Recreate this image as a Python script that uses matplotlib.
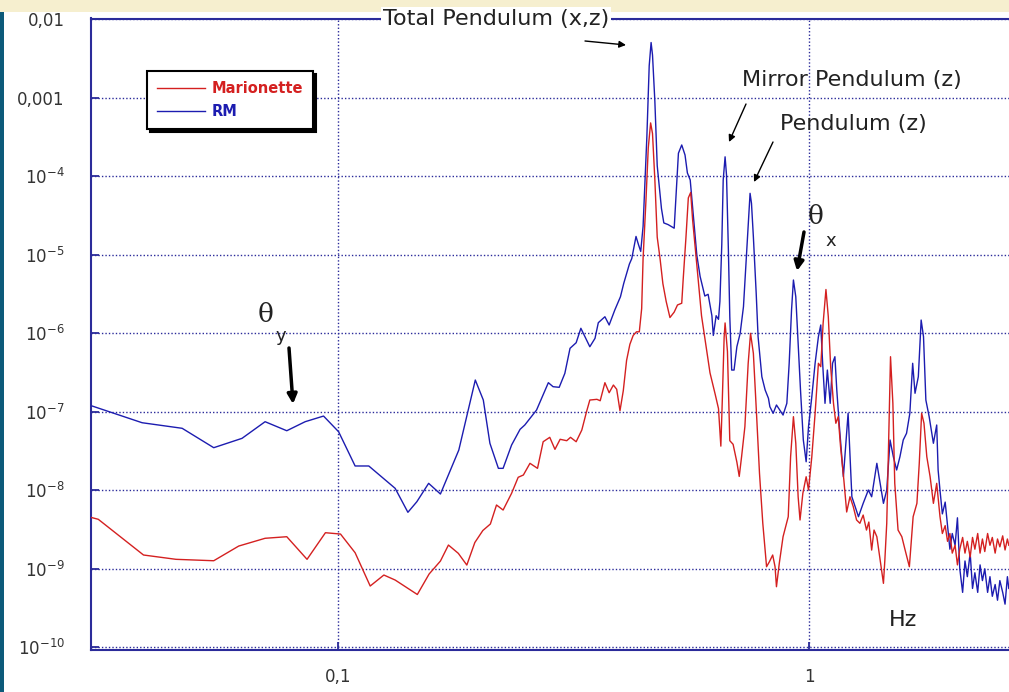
import numpy as np
import matplotlib
matplotlib.use('Agg')
import matplotlib.pyplot as plt
from matplotlib.patches import Rectangle
from matplotlib.ticker import NullLocator, FixedLocator, FixedFormatter

# ---------------- data (log10 of frequency in Hz, log10 of amplitude) ----------------
rm_log_freq = [
    -1.521, -1.415, -1.330, -1.263, -1.203, -1.154, -1.108, -1.069, -1.030, -0.998,
    -0.963, -0.934, -0.878, -0.851, -0.832, -0.807, -0.782, -0.743, -0.708, -0.691,
    -0.677, -0.659, -0.649, -0.631, -0.613, -0.603, -0.578, -0.553, -0.543, -0.530,
    -0.518, -0.507, -0.494, -0.484, -0.465, -0.454, -0.447, -0.433, -0.424, -0.412,
    -0.400, -0.393, -0.381, -0.376, -0.367, -0.362, -0.357, -0.352, -0.344, -0.339,
    -0.335, -0.332, -0.327, -0.322, -0.313, -0.308, -0.299, -0.286, -0.282, -0.277,
    -0.270, -0.263, -0.258, -0.252, -0.245, -0.238, -0.231, -0.221, -0.214, -0.206,
    -0.203, -0.197, -0.192, -0.189, -0.185, -0.182, -0.178, -0.175, -0.171, -0.168,
    -0.164, -0.159, -0.153, -0.146, -0.139, -0.132, -0.125, -0.122, -0.118, -0.112,
    -0.108, -0.100, -0.093, -0.086, -0.083, -0.076, -0.069, -0.062, -0.055, -0.047,
    -0.042, -0.037, -0.033, -0.028, -0.023, -0.018, -0.012, -0.006, -0.001, 0.006,
    0.013, 0.020, 0.025, 0.029, 0.034, 0.039, 0.045, 0.050, 0.055, 0.059,
    0.064, 0.073, 0.083, 0.091, 0.105, 0.115, 0.126, 0.133, 0.144, 0.151,
    0.158, 0.165, 0.172, 0.179, 0.186, 0.193, 0.200, 0.207, 0.214, 0.220,
    0.225, 0.232, 0.238, 0.243, 0.248, 0.255, 0.264, 0.271, 0.274,
    0.278, 0.283, 0.289, 0.294, 0.299, 0.304, 0.310, 0.315, 0.320, 0.326,
    0.331, 0.336, 0.342, 0.347, 0.352, 0.358, 0.363, 0.368, 0.373, 0.379,
    0.384, 0.389, 0.395, 0.400, 0.405, 0.411, 0.416, 0.421, 0.424,
]
rm_log_asd = [
    -6.926, -7.139, -7.210, -7.457, -7.338, -7.126, -7.241, -7.126, -7.054, -7.254,
    -7.690, -7.690, -7.975, -8.280, -8.145, -7.911, -8.047, -7.487, -6.595, -6.850,
    -7.401, -7.720, -7.720, -7.423, -7.223, -7.168, -6.977, -6.629, -6.680, -6.688,
    -6.510, -6.191, -6.120, -5.936, -6.171, -6.064, -5.865, -5.789, -5.894, -5.703,
    -5.534, -5.363, -5.117, -5.048, -4.766, -4.866, -4.957, -4.638, -3.501, -2.591,
    -2.296, -2.455, -3.046, -3.865, -4.411, -4.594, -4.615, -4.661, -4.229, -3.706,
    -3.601, -3.729, -3.957, -4.047, -4.525, -5.003, -5.275, -5.525, -5.503, -5.776,
    -6.027, -5.776, -5.822, -5.594, -4.866, -4.047, -3.752, -3.983, -4.939, -5.789,
    -6.468, -6.468, -6.171, -6.000, -5.661, -4.939, -4.217, -4.344, -4.769, -5.490,
    -6.043, -6.553, -6.722, -6.828, -6.935, -7.019, -6.913, -6.977, -7.041, -6.892,
    -6.382, -5.703, -5.321, -5.534, -6.127, -6.722, -7.359, -7.636, -7.190, -6.808,
    -6.382, -6.043, -5.894, -6.382, -6.892, -6.468, -6.892, -6.382, -6.298, -6.722,
    -7.146, -7.827, -7.019, -8.082, -8.336, -8.166, -7.996, -8.082, -7.656, -7.911,
    -8.166, -7.996, -7.359, -7.572, -7.741, -7.572, -7.359, -7.274, -7.019, -6.382,
    -6.764, -6.553, -5.831, -6.043, -6.850, -7.062, -7.401, -7.168, -7.741,
    -8.00, -8.30, -8.15, -8.45, -8.75, -8.55, -8.70, -8.35, -9.00, -9.30,
    -8.90, -9.10, -8.80, -9.25, -9.05, -9.30, -8.95, -9.15, -9.00, -9.30,
    -9.10, -9.35, -9.20, -9.40, -9.15, -9.30, -9.45, -9.10, -9.25,
]
mar_log_freq = [
    -1.524, -1.508, -1.412, -1.343, -1.263, -1.210, -1.154, -1.108, -1.065, -1.026,
    -0.994, -0.963, -0.931, -0.902, -0.878, -0.831, -0.806, -0.782, -0.765, -0.744,
    -0.726, -0.709, -0.692, -0.676, -0.663, -0.649, -0.631, -0.617, -0.606, -0.592,
    -0.576, -0.564, -0.550, -0.539, -0.528, -0.514, -0.506, -0.494, -0.482, -0.472,
    -0.465, -0.450, -0.443, -0.433, -0.424, -0.415, -0.408, -0.401, -0.394, -0.387,
    -0.380, -0.373, -0.366, -0.360, -0.355, -0.352, -0.346, -0.341, -0.336, -0.332,
    -0.327, -0.322, -0.316, -0.310, -0.303, -0.295, -0.286, -0.279, -0.270, -0.267,
    -0.261, -0.256, -0.251, -0.247, -0.242, -0.235, -0.228, -0.219, -0.210, -0.199,
    -0.192, -0.187, -0.184, -0.180, -0.178, -0.173, -0.168, -0.161, -0.153, -0.148,
    -0.143, -0.136, -0.129, -0.124, -0.118, -0.111, -0.105, -0.098, -0.090, -0.084,
    -0.077, -0.072, -0.069, -0.063, -0.055, -0.044, -0.039, -0.033, -0.028, -0.023,
    -0.019, -0.013, -0.006, -0.001, 0.006, 0.013, 0.020, 0.025, 0.030, 0.036,
    0.041, 0.046, 0.052, 0.057, 0.062, 0.067, 0.074, 0.080, 0.087, 0.094,
    0.101, 0.108, 0.115, 0.122, 0.127, 0.133, 0.138, 0.144, 0.151, 0.158,
    0.161, 0.165, 0.168, 0.173, 0.178, 0.182, 0.189, 0.197, 0.204, 0.213,
    0.221, 0.229, 0.234, 0.239, 0.244, 0.250, 0.257, 0.264, 0.271, 0.278,
    0.283, 0.289, 0.294, 0.299, 0.304, 0.310, 0.315, 0.320, 0.326, 0.331,
    0.336, 0.342, 0.347, 0.352, 0.358, 0.363, 0.368, 0.373, 0.379, 0.384,
    0.389, 0.395, 0.400, 0.405, 0.411, 0.416, 0.421, 0.424,
]
mar_log_asd = [
    -8.344, -8.369, -8.824, -8.879, -8.897, -8.710, -8.611, -8.591, -8.879, -8.540,
    -8.557, -8.795, -9.219, -9.079, -9.143, -9.327, -9.066, -8.901, -8.697, -8.803,
    -8.952, -8.665, -8.512, -8.429, -8.187, -8.251, -8.038, -7.834, -7.805, -7.656,
    -7.720, -7.381, -7.325, -7.478, -7.350, -7.368, -7.325, -7.381, -7.232, -6.999,
    -6.850, -6.841, -6.859, -6.629, -6.757, -6.659, -6.713, -6.986, -6.731, -6.345,
    -6.140, -6.027, -5.981, -5.981, -5.685, -5.048, -4.320, -3.638, -3.320, -3.456,
    -4.047, -4.775, -5.048, -5.367, -5.594, -5.799, -5.730, -5.639, -5.617, -5.321,
    -4.775, -4.275, -4.206, -4.548, -4.866, -5.321, -5.776, -6.140, -6.504, -6.777,
    -6.959, -7.437, -6.868, -6.048, -5.868, -6.231, -7.368, -7.414, -7.641, -7.823,
    -7.572, -7.190, -6.382, -6.000, -6.255, -7.062, -7.783, -8.420, -8.973, -8.910,
    -8.824, -8.973, -9.228, -8.930, -8.591, -8.336, -7.572, -7.062, -7.401, -8.082,
    -8.378, -8.038, -7.827, -7.996, -7.572, -7.019, -6.382, -6.425, -5.873, -5.442,
    -5.789, -6.425, -6.892, -7.146, -7.062, -7.445, -7.869, -8.276, -8.082, -8.209,
    -8.378, -8.420, -8.315, -8.506, -8.404, -8.761, -8.506, -8.591, -8.888, -9.185,
    -8.888, -8.420, -7.656, -6.298, -6.892, -7.911, -8.506, -8.591, -8.761, -8.973,
    -8.336, -8.166, -7.656, -7.019, -7.146, -7.572, -7.827, -8.166, -7.911, -8.336,
    -8.55, -8.45, -8.65, -8.55, -8.80, -8.70, -8.95, -8.75, -8.60, -8.80,
    -8.65, -8.85, -8.60, -8.75, -8.55, -8.80, -8.62, -8.78, -8.55, -8.70,
    -8.60, -8.80, -8.62, -8.72, -8.58, -8.76, -8.62, -8.70,
]

series_labels = ['Marionette', 'RM']
ytick_values = [1e-2, 1e-3, 1e-4, 1e-5, 1e-6, 1e-7, 1e-8, 1e-9, 1e-10]
ytick_labels = ['0,01', '0,001', '$10^{-4}$', '$10^{-5}$', '$10^{-6}$',
                '$10^{-7}$', '$10^{-8}$', '$10^{-9}$', '$10^{-10}$']
xtick_values = [0.1, 1]
xtick_labels = ['0,1', '1']

# ---------------- figure ----------------
plt.rcParams['font.family'] = ['DejaVu Sans']
plt.rcParams['mathtext.fontset'] = 'dejavusans'
plt.rcParams['mathtext.default'] = 'regular'

W, H = 1009, 692
fig = plt.figure(figsize=(W / 100, H / 100), dpi=100)
fig.patch.set_facecolor('white')
fig.patches.append(Rectangle((0, 1 - 12 / H), 1, 12 / H, transform=fig.transFigure,
                             facecolor='#f6efcf', edgecolor='none', zorder=0))
fig.patches.append(Rectangle((0, 0), 4 / W, 1 - 12 / H, transform=fig.transFigure,
                             facecolor='#0d5a7a', edgecolor='none', zorder=0))

navy = '#2b2b9a'
red = '#d42020'
blue = '#1c1cb0'
txt = '#222222'

ax = fig.add_axes([91 / W, 42 / H, (W - 91) / W, (650 - 18.5) / H])
ax.set_facecolor('white')
ax.set_xscale('log')
ax.set_yscale('log')

h_rm, = ax.plot(10 ** np.array(rm_log_freq), 10 ** np.array(rm_log_asd),
                color=blue, lw=1.0, label=series_labels[1], zorder=3)
h_mar, = ax.plot(10 ** np.array(mar_log_freq), 10 ** np.array(mar_log_asd),
                 color=red, lw=1.0, label=series_labels[0], zorder=3)

ax.set_xlim(10 ** -1.5234, 10 ** 0.4244)
ax.set_ylim(10 ** -10.034, 10 ** -1.99)

ax.xaxis.set_major_locator(FixedLocator(xtick_values))
ax.xaxis.set_major_formatter(FixedFormatter(xtick_labels))
ax.yaxis.set_major_locator(FixedLocator(ytick_values))
ax.yaxis.set_major_formatter(FixedFormatter(ytick_labels))
ax.xaxis.set_minor_locator(NullLocator())
ax.yaxis.set_minor_locator(NullLocator())

ax.tick_params(axis='both', direction='in', length=6, width=1.3, color=navy,
               labelsize=12, labelcolor='#333333')
ax.tick_params(axis='y', pad=19)
ax.tick_params(axis='x', pad=13)

ax.set_axisbelow(True)
ax.grid(True, which='major', color=navy, linestyle=(0, (1, 1.5)), linewidth=1.0)

for side in ['left', 'bottom', 'top']:
    ax.spines[side].set_color(navy)
    ax.spines[side].set_linewidth(1.5)
ax.spines['right'].set_visible(False)

leg = ax.legend(handles=[h_mar, h_rm], labels=series_labels, loc='upper left',
                bbox_to_anchor=(147 / W, 1 - 71 / H), bbox_transform=fig.transFigure,
                borderaxespad=0, frameon=True, fancybox=False, edgecolor='black',
                framealpha=1, shadow={'color': 'black', 'alpha': 1},
                prop={'weight': 'bold', 'size': 10.5}, handlelength=3.3,
                handletextpad=0.4, labelspacing=0.55, borderpad=0.7,
                labelcolor='linecolor')
leg.get_frame().set_linewidth(1.5)
leg.set_zorder(6)


def fp(x, y):
    return (x, H - y)


# annotations
fig.text(496 / W, 1 - 18.5 / H, 'Total Pendulum (x,z)', ha='center', va='center',
         fontsize=16, color=txt, zorder=10,
         bbox=dict(facecolor='white', edgecolor='none', pad=1.5))
fig.text(852 / W, 1 - 80 / H, 'Mirror Pendulum (z)', ha='center', va='center',
         fontsize=16, color=txt)
fig.text(853 / W, 1 - 124 / H, 'Pendulum (z)', ha='center', va='center',
         fontsize=16, color=txt)
fig.text(816 / W, 1 - 217 / H, 'θ', ha='center', va='center', fontsize=19,
         color=txt, family='DejaVu Serif')
fig.text(831 / W, 1 - 241 / H, 'x', ha='center', va='center', fontsize=13, color=txt)
fig.text(266 / W, 1 - 315 / H, 'θ', ha='center', va='center', fontsize=19,
         color=txt, family='DejaVu Serif')
fig.text(281 / W, 1 - 336 / H, 'y', ha='center', va='center', fontsize=13, color=txt)
fig.text(903 / W, 1 - 620 / H, 'Hz', ha='center', va='center', fontsize=16, color=txt)

thin = dict(arrowstyle='-|>', lw=1.0, color='black', mutation_scale=10,
            shrinkA=0, shrinkB=0)
thick = dict(arrowstyle='-|>', lw=2.5, color='black', mutation_scale=14,
             shrinkA=0, shrinkB=0)
ax.annotate('', xy=fp(626, 45), xycoords='figure pixels',
            xytext=fp(585, 41), textcoords='figure pixels', arrowprops=thin)
ax.annotate('', xy=fp(729, 142), xycoords='figure pixels',
            xytext=fp(746, 104), textcoords='figure pixels', arrowprops=thin)
ax.annotate('', xy=fp(754, 182), xycoords='figure pixels',
            xytext=fp(773, 142), textcoords='figure pixels', arrowprops=thin)
ax.annotate('', xy=fp(797, 271), xycoords='figure pixels',
            xytext=fp(804, 232), textcoords='figure pixels', arrowprops=thick)
ax.annotate('', xy=fp(293, 404), xycoords='figure pixels',
            xytext=fp(289, 348), textcoords='figure pixels', arrowprops=thick)

fig.savefig('out.png', dpi=100, facecolor=fig.get_facecolor())
